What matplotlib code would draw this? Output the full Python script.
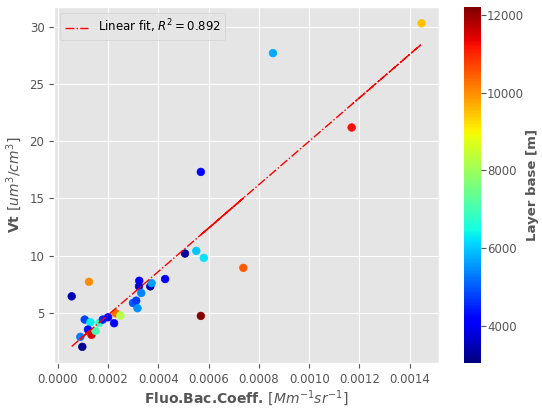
import numpy as np
import matplotlib
matplotlib.use('Agg')
import matplotlib.pyplot as plt

plt.style.use('ggplot')

# Fluo.Bac.Coeff. [Mm-1 sr-1]
fluo = [0.0000553, 0.000124, 0.000107, 0.000130, 0.0000897, 0.0000975, 0.000120,
        0.000134, 0.000150, 0.000165, 0.000179, 0.000200, 0.000224, 0.000230,
        0.000249, 0.000299, 0.000312, 0.000317, 0.000324, 0.000323, 0.000332,
        0.000368, 0.000373, 0.000427, 0.000506, 0.000551, 0.000581, 0.000738,
        0.000569, 0.000569, 0.000856, 0.001447, 0.001169]
# Vt [um3/cm3]
vt = [6.45, 7.72, 4.42, 4.19, 2.91, 2.04, 3.55, 3.09, 3.43, 4.13, 4.42, 4.62, 4.10,
      4.97, 4.77, 5.87, 6.07, 5.41, 7.81, 7.32, 6.74, 7.32, 7.60, 7.96, 10.19,
      10.42, 9.81, 8.94, 4.74, 17.32, 27.7, 30.3, 21.2]
# Layer base [m]
layer_base = [3500, 10000, 4800, 6300, 5300, 3200, 4300, 11500, 7000, 6800, 4500,
              4200, 4200, 10300, 8300, 5000, 4700, 5500, 4200, 3700, 5400, 3500,
              5600, 4000, 3300, 6000, 6200, 10500, 12100, 4200, 5700, 9500, 11200]

r2_text = 0.892

x = np.array(fluo)
y = np.array(vt)
slope, intercept = np.polyfit(x, y, 1)

fig = plt.figure(figsize=(5.42, 4.09), dpi=100)
ax = fig.add_axes([0.1, 0.1125, 0.71, 0.87])
cax = fig.add_axes([0.856, 0.1125, 0.031, 0.87])

sc = ax.scatter(x, y, c=layer_base, cmap='jet', vmin=3045, vmax=12200, s=30, zorder=3)
# fit evaluated at the data x (unsorted), as in the original
ax.plot(x, slope * x + intercept, color='red', linestyle='-.', linewidth=1,
        label='Linear fit, $R^2 = %.3f$' % r2_text, zorder=4)

ax.set_xlabel('Fluo.Bac.Coeff. $[Mm^{-1} sr^{-1}]$', fontsize=10, fontweight='bold',
              color='#555555', labelpad=2)
ax.set_ylabel('Vt $[um^3/cm^3]$', fontsize=10, fontweight='bold', color='#555555')
ax.tick_params(labelsize=8.5, colors='#555555')
ax.set_xticks([0.0, 0.0002, 0.0004, 0.0006, 0.0008, 0.0010, 0.0012, 0.0014])
ax.xaxis.set_major_formatter(matplotlib.ticker.FormatStrFormatter('%.4f'))
ax.legend(loc='upper left', fontsize=8.5)

cb = fig.colorbar(sc, cax=cax)
cb.set_ticks([4000, 6000, 8000, 10000, 12000])
cb.ax.tick_params(labelsize=8.5, colors='#555555', pad=1)
cb.set_label('Layer base [m]', fontsize=9.5, fontweight='bold', color='#555555', labelpad=1)
cb.outline.set_visible(False)

fig.savefig('out.png', dpi=100)
